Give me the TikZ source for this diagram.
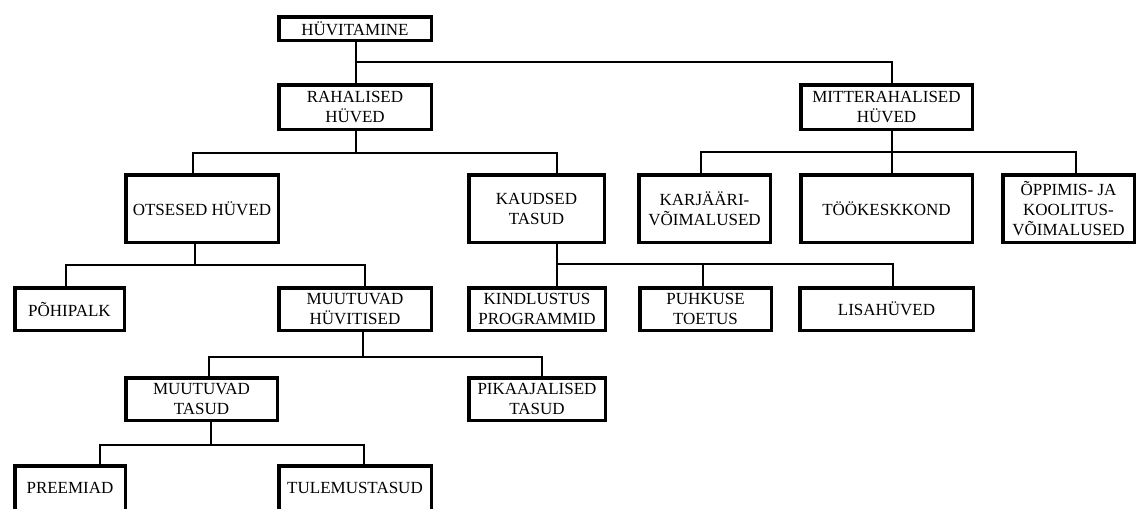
\documentclass[tikz,border=0pt]{standalone}
\usepackage{fontspec}
\setmainfont{Liberation Serif}
\begin{document}
\begin{tikzpicture}[x=1pt,y=-1pt,
  box/.style={draw, line width=3.5pt, align=center, inner sep=0pt,
    font=\fontsize{17}{20}\selectfont},
  conn/.style={line width=1.8pt}]
\useasboundingbox (0,0) rectangle (1136,509);
% boxes
\node[box, minimum width=152.5pt, minimum height=23.5pt] (hv) at (355,28.5) {HÜVITAMINE};
\node[box, minimum width=152.5pt, minimum height=44.5pt] (rah) at (355,107) {RAHALISED\\HÜVED};
\node[box, minimum width=171.5pt, minimum height=44.5pt] (mit) at (886.5,107) {MITTERAHALISED\\HÜVED};
\node[box, minimum width=152.5pt, minimum height=67.5pt] (ots) at (202,208.5) {OTSESED HÜVED};
\node[box, minimum width=135.5pt, minimum height=67.5pt] (kau) at (536.5,208.5) {KAUDSED\\TASUD};
\node[box, minimum width=131.5pt, minimum height=67.5pt] (kar) at (704.5,208.5) {KARJÄÄRI-\\VÕIMALUSED};
\node[box, minimum width=171.5pt, minimum height=67.5pt] (too) at (886.5,208.5) {TÖÖKESKKOND};
\node[box, minimum width=131.5pt, minimum height=67.5pt] (opp) at (1068.5,208.5) {ÕPPIMIS- JA\\KOOLITUS-\\VÕIMALUSED};
\node[box, minimum width=109.5pt, minimum height=42.5pt] (poh) at (69.5,309) {PÕHIPALK};
\node[box, minimum width=152.5pt, minimum height=42.5pt] (muh) at (355,309) {MUUTUVAD\\HÜVITISED};
\node[box, minimum width=136.5pt, minimum height=42.5pt] (kin) at (537,309) {KINDLUSTUS\\PROGRAMMID};
\node[box, minimum width=131.5pt, minimum height=42.5pt] (puh) at (705.5,309) {PUHKUSE\\TOETUS};
\node[box, minimum width=173.5pt, minimum height=42.5pt] (lis) at (886.5,309) {LISAHÜVED};
\node[box, minimum width=151.5pt, minimum height=42.5pt] (mut) at (201.5,399) {MUUTUVAD\\TASUD};
\node[box, minimum width=136.5pt, minimum height=42.5pt] (pik) at (537,399) {PIKAAJALISED\\TASUD};
\node[box, minimum width=110.5pt, minimum height=44.5pt] (pre) at (70,488) {PREEMIAD};
\node[box, minimum width=152.5pt, minimum height=44.5pt] (tul) at (355,488) {TULEMUSTASUD};
% junctions
\coordinate (j0) at (356,62);
\coordinate (j1) at (356,153);
\coordinate (j2) at (892,152);
\coordinate (j3) at (195,265);
\coordinate (j4) at (557,264);
\coordinate (j5) at (363,357);
\coordinate (j6) at (211,445);
% connectors
\draw[conn] (356,0 |- hv.south) -- (356,0 |- rah.north);
\draw[conn] (j0) -| (892,0 |- mit.north);
\draw[conn] (356,0 |- rah.south) -- (j1);
\draw[conn] (193,0 |- ots.north) |- (j1) -| (557,0 |- kau.north);
\draw[conn] (892,0 |- mit.south) -- (j2);
\draw[conn] (701,0 |- kar.north) |- (j2) -| (1076,0 |- opp.north);
\draw[conn] (j2) -- (892,0 |- too.north);
\draw[conn] (195,0 |- ots.south) -- (j3);
\draw[conn] (66,0 |- poh.north) |- (j3) -| (365,0 |- muh.north);
\draw[conn] (557,0 |- kau.south) -- (j4);
\draw[conn] (557,0 |- kin.north) -- (j4) -| (893,0 |- lis.north);
\draw[conn] (703,0 |- puh.north) -- (703,0 |- j4);
\draw[conn] (363,0 |- muh.south) -- (j5);
\draw[conn] (209,0 |- mut.north) |- (j5) -| (542,0 |- pik.north);
\draw[conn] (211,0 |- mut.south) -- (j6);
\draw[conn] (100,0 |- pre.north) |- (j6) -| (364,0 |- tul.north);
\end{tikzpicture}
\end{document}
